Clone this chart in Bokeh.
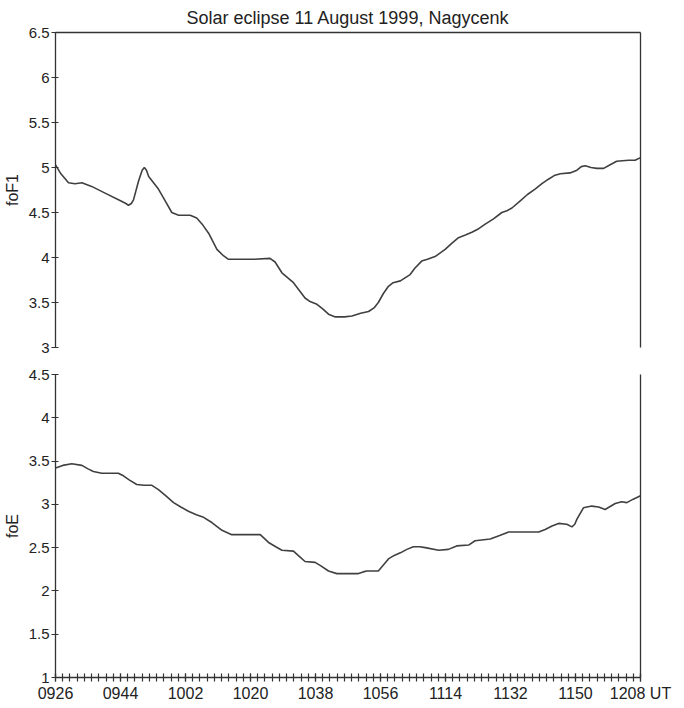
from bokeh.plotting import figure
from bokeh.layouts import column
from bokeh.models import Range1d, LinearAxis, FixedTicker, NumeralTickFormatter
from bokeh.embed import file_html
from bokeh.resources import INLINE

# ---- data (minutes after 09:26 UT) ----
title_text = "Solar eclipse 11 August 1999, Nagycenk"

fof1_t = [0, 1.5, 3.6, 5.4, 7.3, 10, 14, 18, 19.5, 20.2, 21.0, 21.6, 23.0, 24.0, 24.6, 25.2,
          25.8, 28.5, 30.5, 32.2, 34.1, 37.3, 39.1, 40.8, 42.4, 44.7, 46.5, 47.9, 50.7, 55,
          59.4, 60.8, 62.7, 65.9, 69.1, 70.5, 72.4, 74.0, 75.6, 77.5, 80.0, 82.1, 84.5, 86.7,
          88.2, 89.4, 90.8, 92.2, 93.5, 95.5, 98.2, 99.5, 101.4, 103, 105.1, 107.9, 109.8,
          111.6, 113.5, 115.3, 117.2, 119.0, 121.3, 123.6, 125, 126.4, 128.7, 130.7, 132.8,
          134.7, 136.5, 138.1, 139.8, 142.5, 144.4, 145.6, 146.7, 148.3, 149.9, 151.8, 153.6,
          155.4, 158.7, 160.5, 162]
fof1_v = [5.03, 4.93, 4.83, 4.82, 4.83, 4.79, 4.71, 4.63, 4.60, 4.58, 4.60, 4.64, 4.85, 4.97,
          5.00, 4.97, 4.90, 4.76, 4.62, 4.50, 4.47, 4.47, 4.44, 4.36, 4.27, 4.09, 4.02, 3.98,
          3.98, 3.98, 3.99, 3.95, 3.83, 3.72, 3.55, 3.51, 3.48, 3.43, 3.37, 3.34, 3.34, 3.35,
          3.38, 3.40, 3.44, 3.50, 3.60, 3.68, 3.72, 3.74, 3.81, 3.88, 3.96, 3.98, 4.01, 4.09,
          4.16, 4.22, 4.25, 4.28, 4.32, 4.37, 4.43, 4.50, 4.52, 4.55, 4.63, 4.70, 4.76, 4.82,
          4.87, 4.91, 4.93, 4.94, 4.97, 5.01, 5.02, 5.00, 4.99, 4.99, 5.03, 5.07, 5.08, 5.08,
          5.11]

foe_t = [0, 2, 4.5, 7.3, 9, 10.5, 12.8, 17.4, 18.8, 20.5, 22.5, 24.5, 26.7, 28.5, 30.5, 32.7,
         34.7, 36.8, 39, 41.0, 43.3, 46.1, 48.8, 52, 56.7, 59.0, 61, 62.7, 65.9, 67.5, 69.1,
         71.9, 73.5, 75.6, 77.9, 81, 83.9, 85.2, 86.2, 89.4, 90.8, 92.2, 93.8, 95.5, 97.3,
         99.1, 100.8, 102.4, 106.1, 108.8, 111.1, 114.4, 116.2, 120.4, 123, 125.5, 130, 133.8,
         135.6, 137.5, 139.3, 141.6, 143.0, 143.8, 144.4, 146.2, 148.5, 150.4, 152.2, 155.0,
         156.8, 158.2, 160, 162]
foe_v = [3.42, 3.45, 3.47, 3.45, 3.41, 3.38, 3.36, 3.36, 3.33, 3.28, 3.23, 3.22, 3.22, 3.17,
         3.10, 3.02, 2.97, 2.92, 2.88, 2.85, 2.79, 2.70, 2.65, 2.65, 2.65, 2.56, 2.51, 2.47,
         2.46, 2.40, 2.34, 2.33, 2.29, 2.23, 2.20, 2.20, 2.20, 2.22, 2.23, 2.23, 2.30, 2.37,
         2.41, 2.44, 2.48, 2.51, 2.51, 2.50, 2.47, 2.48, 2.52, 2.53, 2.58, 2.60, 2.64, 2.68,
         2.68, 2.68, 2.71, 2.75, 2.78, 2.77, 2.74, 2.77, 2.83, 2.96, 2.98, 2.97, 2.94, 3.01,
         3.03, 3.02, 3.06, 3.10]

x_ticks = [0, 18, 36, 54, 72, 90, 108, 126, 144, 162]
x_tick_labels = ["0926", "0944", "1002", "1020", "1038", "1056", "1114", "1132", "1150", "1208 UT"]
x_minor = list(range(0, 163, 2))

fof1_ticks = [3, 3.5, 4, 4.5, 5, 5.5, 6, 6.5]
foe_ticks = [1, 1.5, 2, 2.5, 3, 3.5, 4, 4.5]

FONT = "Liberation Sans"
TXT = "#222222"
AX = "#333333"
LINE = "#404040"
FW = 585
LB = 51
RB = 32


def style_left(ax, ticks):
    ax.ticker = FixedTicker(ticks=ticks)
    ax.formatter = NumeralTickFormatter(format="0.[0]")
    ax.major_tick_in = 3
    ax.major_tick_out = 4
    ax.minor_tick_line_color = None
    ax.axis_line_color = AX
    ax.axis_line_width = 1.3
    ax.major_tick_line_color = AX
    ax.major_tick_line_width = 1.2
    ax.major_label_text_font = FONT
    ax.major_label_text_font_size = "15px"
    ax.major_label_text_color = TXT
    ax.major_label_standoff = 2
    ax.axis_label_text_font = FONT
    ax.axis_label_text_font_size = "16px"
    ax.axis_label_text_font_style = "normal"
    ax.axis_label_text_color = TXT
    ax.axis_label_standoff = 5


def border_axis():
    a = LinearAxis(ticker=FixedTicker(ticks=[]))
    a.major_tick_line_color = None
    a.minor_tick_line_color = None
    a.major_label_text_font_size = "0px"
    a.axis_line_color = AX
    a.axis_line_width = 1.3
    return a


# ---- top panel ----
p1 = figure(frame_width=FW, frame_height=315, x_range=Range1d(0, 162), y_range=Range1d(3, 6.5),
            output_backend="svg", toolbar_location=None, x_axis_location=None,
            title=title_text, min_border_left=LB, min_border_right=RB,
            min_border_top=32, min_border_bottom=9)
p1.title.align = "center"
p1.title.text_font = FONT
p1.title.text_font_size = "18px"
p1.title.text_font_style = "normal"
p1.title.text_color = TXT
p1.title.standoff = 9
p1.grid.visible = False
p1.outline_line_color = None
style_left(p1.yaxis[0], fof1_ticks)
p1.yaxis[0].axis_label = "foF1"
p1.add_layout(border_axis(), "above")
p1.add_layout(border_axis(), "right")
p1.line(fof1_t, fof1_v, line_color=LINE, line_width=1.6)

# ---- bottom panel ----
p2 = figure(frame_width=FW, frame_height=303, x_range=p1.x_range, y_range=Range1d(1, 4.5),
            output_backend="svg", toolbar_location=None,
            min_border_left=LB, min_border_right=RB, min_border_top=18, min_border_bottom=24)
p2.grid.visible = False
p2.outline_line_color = None
style_left(p2.yaxis[0], foe_ticks)
p2.yaxis[0].axis_label = "foE"
xa = p2.xaxis[0]
xa.ticker = FixedTicker(ticks=x_ticks, minor_ticks=x_minor)
xa.major_label_overrides = {t: s for t, s in zip(x_ticks, x_tick_labels)}
xa.major_tick_in = 4
xa.major_tick_out = 4
xa.minor_tick_in = 4
xa.minor_tick_out = 4
xa.axis_line_color = AX
xa.axis_line_width = 1.3
xa.major_tick_line_color = AX
xa.minor_tick_line_color = AX
xa.major_tick_line_width = 1.2
xa.minor_tick_line_width = 1.2
xa.major_label_text_font = FONT
xa.major_label_text_font_size = "16px"
xa.major_label_text_color = TXT
xa.major_label_standoff = 3
p2.add_layout(border_axis(), "right")
p2.line(foe_t, foe_v, line_color=LINE, line_width=1.6)

layout = column(p1, p2, spacing=0)
open("out.html", "w").write(file_html(layout, INLINE))
